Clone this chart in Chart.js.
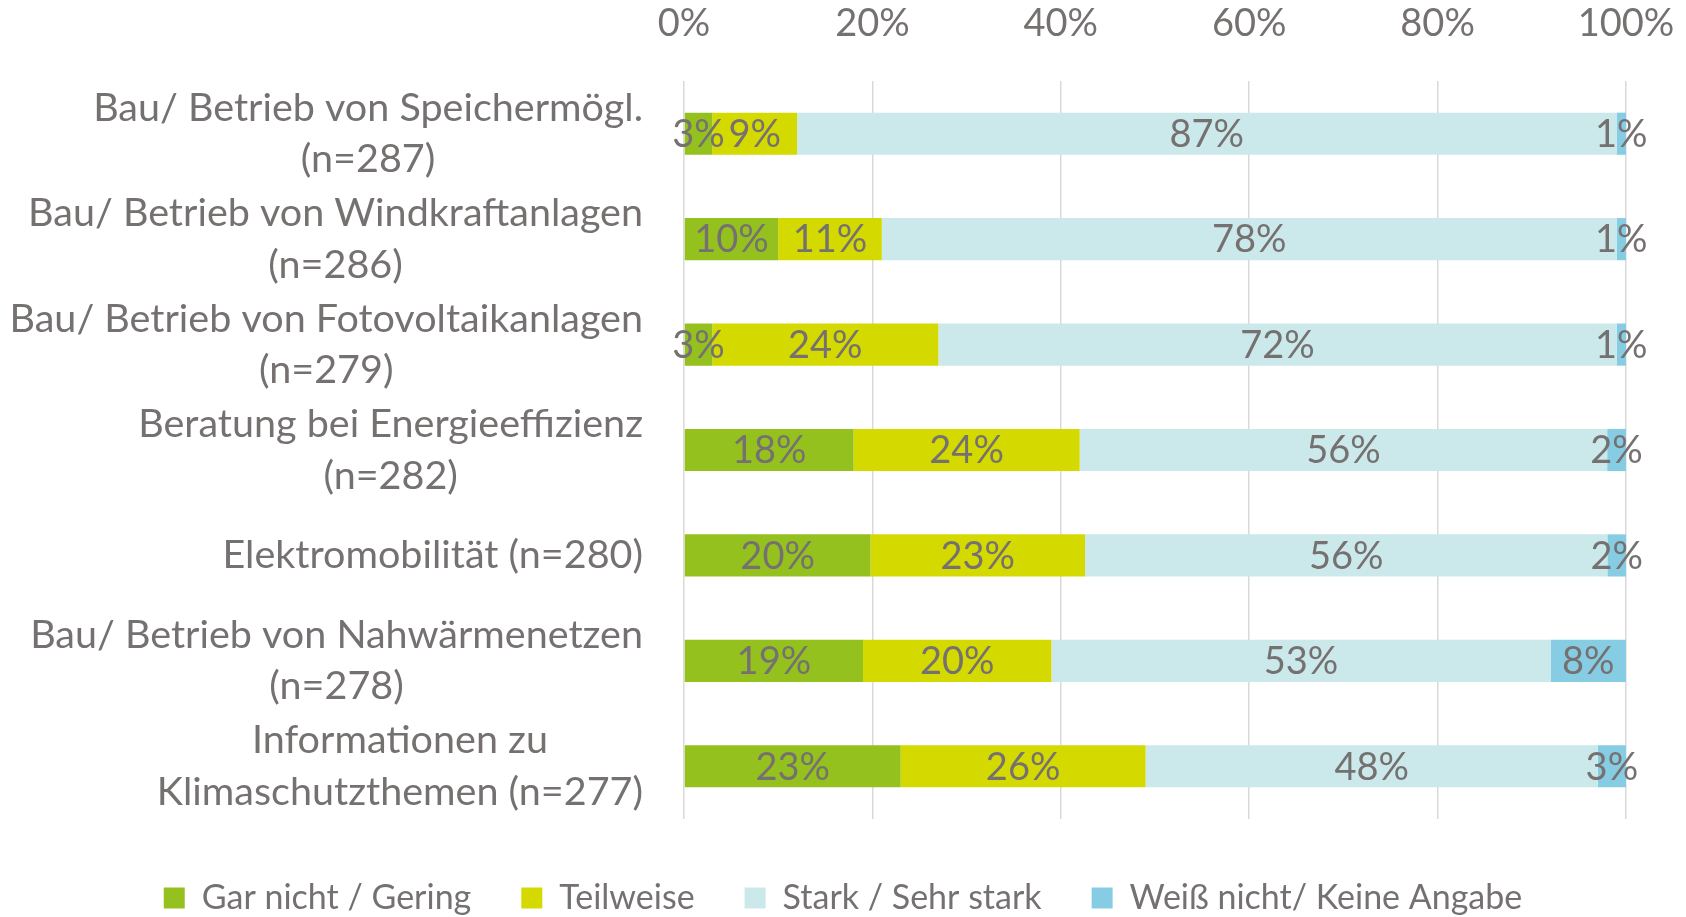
<!DOCTYPE html>
<html>
<head>
<meta charset="utf-8">
<script src="https://cdn.jsdelivr.net/npm/chart.js@4"></script>
<style>
  html, body { margin: 0; padding: 0; background: #fff; }
  #wrap { width: 1686px; height: 917px; }
</style>
</head>
<body>
<div id="wrap"><canvas id="chart"></canvas></div>
<script>
// Unterstützung der Gemeinde bei Klimaschutzthemen (100% gestapelt)

const categories = [
  ['Bau/ Betrieb von Speichermögl.', '(n=287)'],
  ['Bau/ Betrieb von Windkraftanlagen', '(n=286)'],
  ['Bau/ Betrieb von Fotovoltaikanlagen', '(n=279)'],
  ['Beratung bei Energieeffizienz', '(n=282)'],
  ['Elektromobilität (n=280)'],
  ['Bau/ Betrieb von Nahwärmenetzen', '(n=278)'],
  ['Informationen zu', 'Klimaschutzthemen (n=277)']
];

const seriesNames = ['Gar nicht / Gering', 'Teilweise', 'Stark / Sehr stark', 'Weiß nicht/ Keine Angabe'];
const garNicht   = [3, 10, 3, 18, 20, 19, 23];
const teilweise  = [9, 11, 24, 24, 23, 20, 26];
const stark      = [87, 78, 72, 56, 56, 53, 48];
const weissNicht = [1, 1, 1, 2, 2, 8, 3];

const tickValues = [0, 20, 40, 60, 80, 100];

const colors = ['#95C11F', '#D4D900', '#CBE8EA', '#86CDE3'];
const textColor = '#767171';
const FONT = 'Lato';
const F = 38;      // ticks + bar labels
const FCAT = 39.5; // category labels

const rows = [garNicht, teilweise, stark, weissNicht];
// like Excel's 100% stacked bars: each row scaled to its own total
const totals = categories.map((_, i) => rows.reduce((s, r) => s + r[i], 0));

const datasets = rows.map((r, k) => ({
  label: seriesNames[k],
  data: r.map((v, i) => v / totals[i] * 100),
  raw: r,
  backgroundColor: colors[k],
  borderWidth: 0,
  categoryPercentage: 1,
  barPercentage: 0.4
}));

// segment labels, centered in each bar piece
const segLabels = {
  id: 'segLabels',
  afterDatasetsDraw(chart) {
    const ctx = chart.ctx;
    ctx.save();
    ctx.font = F + 'px ' + FONT;
    ctx.fillStyle = textColor;
    ctx.textAlign = 'center';
    ctx.textBaseline = 'middle';
    chart.data.datasets.forEach((ds, k) => {
      chart.getDatasetMeta(k).data.forEach((bar, i) => {
        ctx.fillText(ds.raw[i] + '%', (bar.x + bar.base) / 2, bar.y + 1);
      });
    });
    ctx.restore();
  }
};

// category labels: block right-aligned, each line centered (Excel style)
const catLabels = {
  id: 'catLabels',
  afterDraw(chart) {
    const ctx = chart.ctx;
    const y = chart.scales.y;
    const right = chart.chartArea.left - 41;
    const lh = 51.6;
    ctx.save();
    ctx.font = FCAT + 'px ' + FONT;
    ctx.fillStyle = textColor;
    ctx.textAlign = 'center';
    ctx.textBaseline = 'middle';
    categories.forEach((lines, i) => {
      const w = Math.max(...lines.map(t => ctx.measureText(t).width));
      const cx = right - w / 2;
      const cy = y.getPixelForValue(i);
      lines.forEach((t, j) => {
        ctx.fillText(t, cx, cy + (j - (lines.length - 1) / 2) * lh);
      });
    });
    ctx.restore();
  }
};

new Chart(document.getElementById('chart'), {
  type: 'bar',
  data: { labels: categories.map(c => c.join(' ')), datasets },
  options: {
    indexAxis: 'y',
    responsive: true,
    maintainAspectRatio: false,
    animation: false,
    layout: { padding: 0 },
    scales: {
      x: {
        position: 'top',
        stacked: true,
        min: 0,
        max: 100,
        afterBuildTicks: (s) => { s.ticks = tickValues.map(v => ({ value: v })); },
        afterFit: (s) => { s.height = 81; s.paddingLeft = 0; s.paddingRight = 0; },
        grid: { color: '#D9D9D9', lineWidth: 1.5, drawTicks: false },
        border: { display: false },
        ticks: {
          color: textColor,
          padding: 57 - 0.6 * F,
          maxRotation: 0,
          font: { family: FONT, size: F, lineHeight: 1.2 },
          callback: (v) => v + '%'
        }
      },
      y: {
        stacked: true,
        afterFit: (s) => { s.width = 684; },
        grid: { display: false },
        border: { display: false },
        ticks: { display: false }
      },
      yRight: {
        position: 'right',
        type: 'category',
        afterFit: (s) => { s.width = 60; },
        grid: { display: false },
        border: { display: false },
        ticks: { display: false }
      }
    },
    plugins: {
      legend: {
        position: 'bottom',
        maxHeight: 98,
        title: { display: true, text: '', padding: { top: 11, bottom: 0 }, font: { size: 1, lineHeight: 1 } },
        labels: {
          color: textColor,
          boxWidth: 21,
          boxHeight: 21,
          padding: 50,
          font: { family: FONT, size: 34 }
        }
      },
      tooltip: { enabled: false }
    }
  },
  plugins: [segLabels, catLabels]
});
</script>
</body>
</html>
